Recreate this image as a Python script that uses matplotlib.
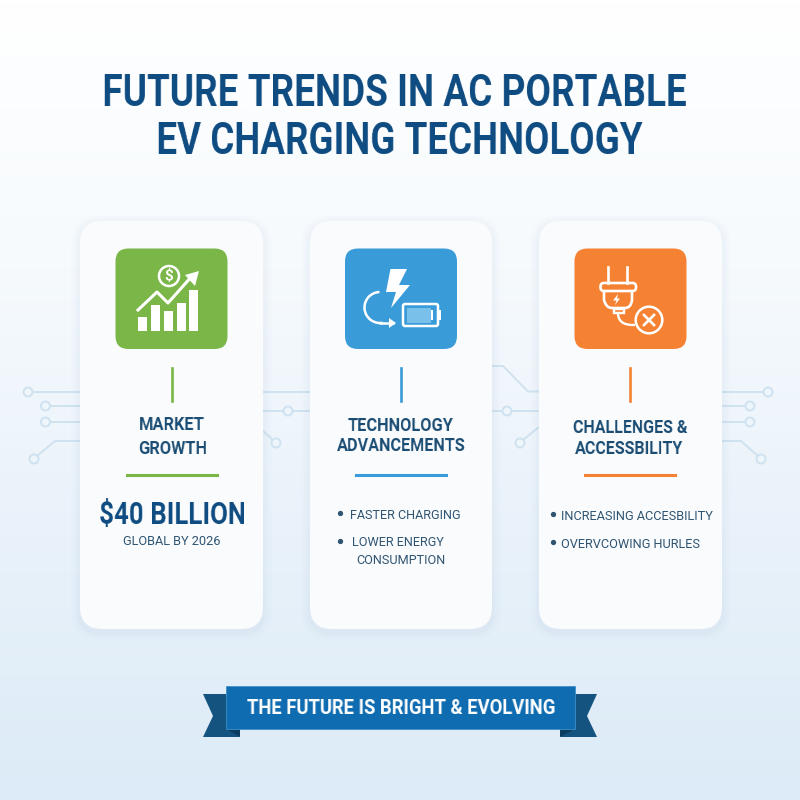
import numpy as np
import matplotlib
matplotlib.use("Agg")
import matplotlib.pyplot as plt
from matplotlib.colors import LinearSegmentedColormap
from matplotlib.patches import FancyBboxPatch, Polygon, Circle, Rectangle, Arc, PathPatch
from matplotlib.path import Path

plt.rcParams['font.family'] = ['Roboto', 'DejaVu Sans']

title_lines = ["FUTURE TRENDS IN AC PORTABLE", "EV CHARGING TECHNOLOGY"]
banner_text = "THE FUTURE IS BRIGHT & EVOLVING"
card_colors = ["#7ab648", "#3a9bd9", "#f58233"]
accent_colors = ["#7ab648", "#3a9bd9", "#f58233"]
growth_heights = [14, 26, 20, 28, 41]

NAVY = "#0f4c81"
HEAD = "#1b4d74"
BODY = "#2f5573"
LINE = "#cfe2f0"

fig = plt.figure(figsize=(8, 8), dpi=100)
ax = fig.add_axes([0, 0, 1, 1])
ax.set_xlim(0, 800)
ax.set_ylim(800, 0)
ax.axis("off")

bg = LinearSegmentedColormap.from_list("bg", ["#ffffff", "#f6fafd", "#e9f2fa", "#dcebf7"])
ax.imshow(np.linspace(0, 1, 256).reshape(-1, 1), cmap=bg, extent=[0, 800, 800, 0], aspect="auto", zorder=0)


# no condensed font here, so squeeze the drawn text sideways around its centre
def squeeze(sx):
    def squeeze_filter(img, dpi):
        h, w = img.shape[:2]
        nw = max(int(round(w * sx)), 1)
        src = np.clip((np.arange(nw) + 0.5) / sx - 0.5, 0, w - 1)
        i0 = np.floor(src).astype(int)
        i1 = np.minimum(i0 + 1, w - 1)
        f = (src - i0)[None, :, None]
        return img[:, i0] * (1 - f) + img[:, i1] * f, int(round((w - nw) / 2)), 0
    return squeeze_filter


def text(x, y, s, size, color=HEAD, weight="bold", ha="center", sx=None):
    t = ax.text(x, y, s, fontsize=size, color=color, fontweight=weight, ha=ha, va="center_baseline", zorder=6)
    if sx:
        t.set_agg_filter(squeeze(sx))


def rounded(x0, y0, x1, y1, r, color, zorder=3, alpha=1.0):
    p = FancyBboxPatch((x0 + r, y0 + r), x1 - x0 - 2 * r, y1 - y0 - 2 * r,
                       boxstyle="round,pad=%f,rounding_size=%f" % (r, r),
                       fc=color, ec="none", alpha=alpha, zorder=zorder)
    ax.add_patch(p)


def wire(xs, ys, circle=None):
    ax.plot(xs, ys, color=LINE, lw=1.4, zorder=1, solid_capstyle="butt")
    if circle:
        ax.add_patch(Circle(circle, 4.5, fc="#eef5fb", ec=LINE, lw=1.4, zorder=1.5))


# circuit traces behind the cards
wire([32, 80], [392, 392], (28, 392))
wire([50, 80], [406, 406], (45.5, 406))
wire([50, 80], [422, 422], (45.5, 422))
wire([37, 55, 80], [456, 441, 441], (34, 459))
wire([722, 764], [392, 392], (768, 392))
wire([722, 746], [406, 406], (750, 406))
wire([722, 746], [422, 422], (750, 422))
wire([722, 741, 758], [441, 441, 456], (761, 459))
wire([263, 310], [391.5, 391.5])
wire([263, 310], [411, 411], (288, 411))
wire([263, 273], [431, 440], (276, 443))
wire([492, 503, 528, 539], [366, 366, 391.5, 391.5])
wire([492, 539], [411, 411], (507, 411))
wire([523, 539], [440, 427], (520, 443))

# cards
for x0, x1 in [(80, 263), (310, 492), (539, 722)]:
    for grow, a in [(9, 0.02), (6, 0.03), (3, 0.04)]:
        rounded(x0 - grow, 221 - grow + 3, x1 + grow, 629 + grow + 3, 22 + grow, "#8fb3d1", zorder=2, alpha=a)
    rounded(x0, 221, x1, 629, 22, "#fafbfd")

# icon tiles
for (x0, x1), c in zip([(115.5, 227.5), (345, 457), (574.5, 686.5)], card_colors):
    rounded(x0, 248.5, x1, 349, 13, c, zorder=4)

W = "white"
# growth icon
for x, h in zip([138, 151, 164, 177, 189], growth_heights):
    ax.add_patch(Rectangle((x, 331 - h), 8.5, h, fc=W, ec="none", zorder=5))
ax.plot([138, 157, 168, 192], [310, 292, 303, 276], color=W, lw=2.2, zorder=5)
ax.add_patch(Polygon([[199, 271], [185, 275], [195, 286]], fc=W, ec="none", zorder=5))
ax.add_patch(Circle((169, 276), 10, fc="none", ec=W, lw=1.8, zorder=5))
ax.text(169, 276.5, "$", fontsize=11, color=W, fontweight="bold", ha="center", va="center", zorder=5)

# lightning and battery icon
ax.add_patch(Polygon([[390.5, 269], [407, 269], [399, 285], [410, 285], [391, 308], [396, 292], [386, 292]],
                     fc=W, ec="none", zorder=5))
ax.add_patch(Arc((380, 307.5), 31, 31, theta1=80, theta2=268, ec=W, lw=1.8, zorder=5))
ax.plot([380, 393], [323, 323], color=W, lw=1.8, zorder=5)
ax.add_patch(Polygon([[396, 323], [389, 318], [389, 328]], fc=W, ec="none", zorder=5))
ax.add_patch(FancyBboxPatch((403, 304), 35, 22, boxstyle="round,pad=0,rounding_size=2", fc="none", ec=W, lw=1.8, zorder=5))
ax.add_patch(Rectangle((406.5, 307.5), 24, 15, fc="#79c0ea", ec="none", zorder=5))
ax.add_patch(Rectangle((430.5, 310), 2, 10, fc=W, ec="none", zorder=5))
ax.add_patch(Rectangle((438.5, 310), 2.5, 10, fc=W, ec="none", zorder=5))

# plug icon
for x in [608, 627]:
    ax.plot([x, x], [267, 283], color=W, lw=1.9, zorder=5)
ax.add_patch(FancyBboxPatch((600.5, 283), 35.5, 8, boxstyle="round,pad=0,rounding_size=3.5", fc="none", ec=W, lw=1.9, zorder=5))
body = Path([(604, 291), (604, 300), (606, 308), (612, 308), (625, 308), (631, 308), (632, 300), (632, 291)],
            [Path.MOVETO, Path.LINETO, Path.CURVE3, Path.CURVE3, Path.LINETO, Path.CURVE3, Path.CURVE3, Path.LINETO])
ax.add_patch(PathPatch(body, fc="none", ec=W, lw=1.9, zorder=5))
ax.add_patch(Rectangle((613.5, 309), 10, 4, fc="none", ec=W, lw=1.7, zorder=5))
wire_path = Path([(618, 313), (618, 325), (633, 325), (635, 325)], [Path.MOVETO, Path.CURVE3, Path.CURVE3, Path.LINETO])
ax.add_patch(PathPatch(wire_path, fc="none", ec=W, lw=1.7, zorder=5))
ax.add_patch(Polygon([[618, 294], [613, 300.5], [616.5, 300.5], [615, 305], [620, 298.5], [617, 298.5]], fc=W, ec="none", zorder=5))
ax.add_patch(Circle((649, 320), 13.3, fc="none", ec=W, lw=1.8, zorder=5))
ax.plot([644, 654], [315, 325], color=W, lw=1.9, zorder=5)
ax.plot([644, 654], [325, 315], color=W, lw=1.9, zorder=5)

# accents
for cx, c in zip([172, 401, 630], accent_colors):
    ax.plot([cx, cx], [368, 401], color=c, lw=1.9, zorder=5)
    ax.plot([cx - 45, cx + 45], [475, 475], color=c, lw=2.2, zorder=5)

# title
text(394.5, 90, title_lines[0], 32.5, NAVY, sx=0.82)
text(399, 137, title_lines[1], 32.5, NAVY, sx=0.815)

# card 1
text(172, 423, "MARKET", 13, sx=0.91)
text(172, 447, "GROWTH", 13, sx=0.91)
text(172, 512, "$40 BILLION", 22, NAVY, sx=0.85)
text(172, 540, "GLOBAL BY 2026", 9.2, BODY, "normal")

# card 2
text(401, 424, "TECHNOLOGY", 13, sx=0.91)
text(401, 444, "ADVANCEMENTS", 13, sx=0.9)
ax.plot([340, 340], [513, 541], ls="none", marker="o", ms=2.8, color=BODY, zorder=6)
text(350, 514, "FASTER CHARGING", 9.1, BODY, "normal", "left")
text(352, 541, "LOWER ENERGY", 9.1, BODY, "normal", "left")
text(401, 559, "CONSUMPTION", 9.1, BODY, "normal")

# card 3
text(630, 426, "CHALLENGES &", 13, sx=0.89)
text(630, 447, "ACCESSBILITY", 13, sx=0.89)
ax.plot([553, 553], [514, 542], ls="none", marker="o", ms=2.8, color=BODY, zorder=6)
text(561, 515, "INCREASING ACCESBILITY", 9.2, BODY, "normal", "left")
text(561, 543, "OVERVCOWING HURLES", 9.2, BODY, "normal", "left")

# banner
for pts, fold in [([[203, 694], [226, 694], [240, 737], [203, 737], [213, 716]], [[226, 729], [240, 729], [240, 737]]),
                  ([[597, 694], [575, 694], [560, 737], [597, 737], [587, 716]], [[575, 729], [560, 729], [560, 737]])]:
    ax.add_patch(Polygon(pts, fc="#14527f", ec="none", zorder=3))
    ax.add_patch(Polygon(fold, fc="#0d3c61", ec="none", zorder=3.5))
ax.add_patch(Rectangle((226, 686), 349, 43, fc="#0f6cb0", ec="#3f8fc8", lw=0.6, zorder=4))
text(401, 707, banner_text, 14.8, "white", sx=0.9)

fig.savefig("out.png", dpi=100)
